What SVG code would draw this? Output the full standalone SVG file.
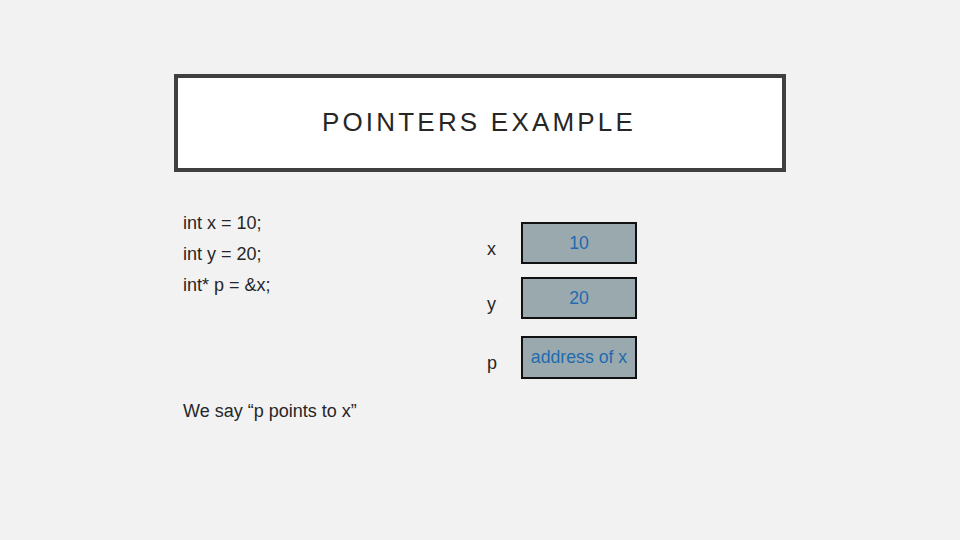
<svg xmlns="http://www.w3.org/2000/svg" width="960" height="540" viewBox="0 0 960 540">
<style>
.t{font-family:"Liberation Sans",Arial,sans-serif;fill:#262626;font-size:18px}
.box{fill:#9aa9ae;stroke:#111;stroke-width:2}
.v{font-family:"Liberation Sans",Arial,sans-serif;fill:#1f6bb0;font-size:17.7px;text-anchor:middle}
</style>
<rect width="960" height="540" fill="#f2f2f2"/>
<g id="title">
<rect x="176" y="76" width="608" height="94" fill="#fff" stroke="#404040" stroke-width="4"/>
<text x="479" y="131" text-anchor="middle" style="font-family:'Liberation Sans',Arial,sans-serif;font-size:26px;letter-spacing:3.2px;fill:#262626">POINTERS EXAMPLE</text>
</g>
<g id="code">
<text class="t" x="183" y="229">int x = 10;</text>
<text class="t" x="183" y="260">int y = 20;</text>
<text class="t" x="183" y="291">int* p = &amp;x;</text>
<text class="t" x="183" y="417">We say “p points to x”</text>
</g>
<g id="node-x">
<text class="t" x="487" y="255">x</text>
<rect class="box" x="522" y="223" width="114" height="40"/>
<text class="v" x="579" y="249">10</text>
</g>
<g id="node-y">
<text class="t" x="487" y="310">y</text>
<rect class="box" x="522" y="278" width="114" height="40"/>
<text class="v" x="579" y="304">20</text>
</g>
<g id="node-p">
<text class="t" x="487" y="369">p</text>
<rect class="box" x="522" y="337" width="114" height="41"/>
<text class="v" x="579" y="363">address of x</text>
</g>
<g id="connectors"/>
</svg>
